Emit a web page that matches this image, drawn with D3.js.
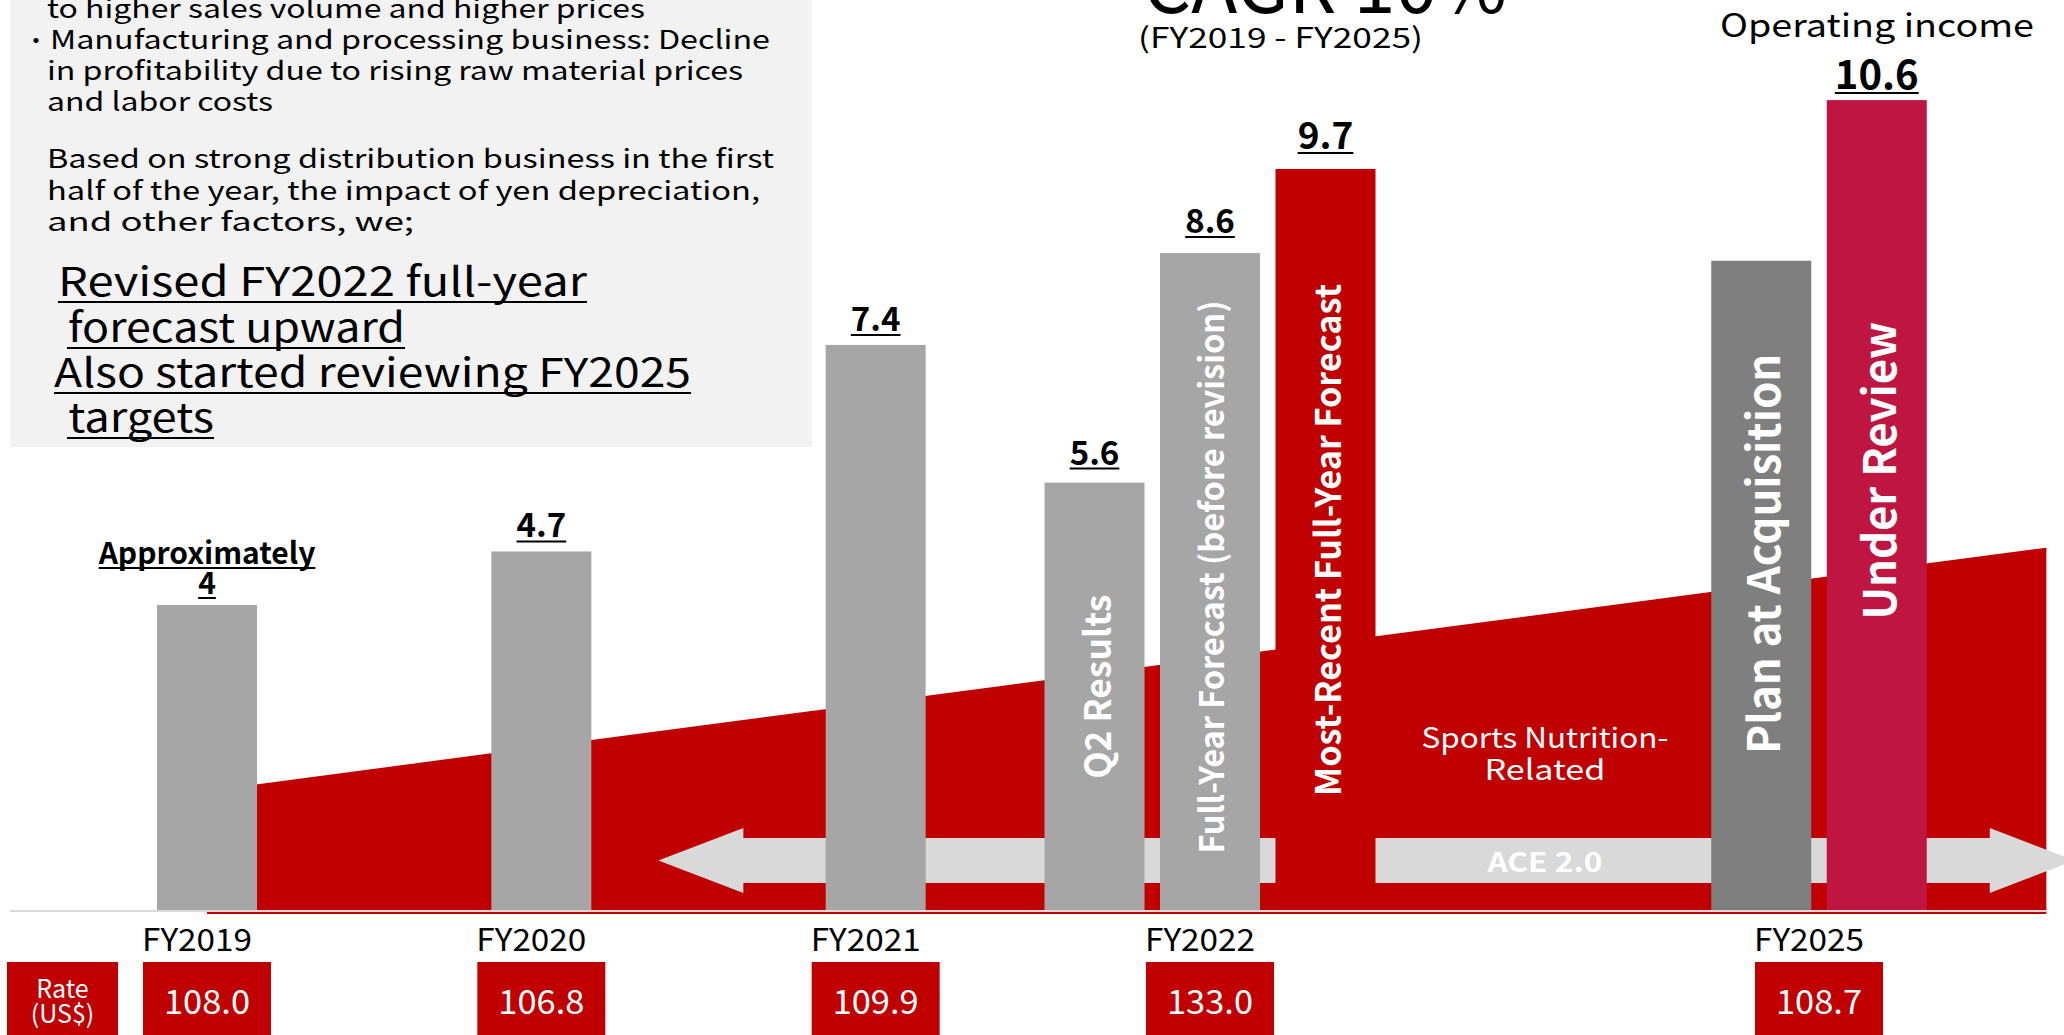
<!DOCTYPE html>
<html>
<head>
<meta charset="utf-8">
<script src="https://cdn.jsdelivr.net/npm/d3@7"></script>
<style>
  html, body { margin: 0; padding: 0; background: #fff; }
  svg { display: block; }
  text { font-family: "Noto Sans CJK JP", "Noto Sans", sans-serif; }
</style>
</head>
<body>
<svg id="chart" width="2064" height="1035"></svg>
<script>
// ---- data ---------------------------------------------------------------
// Fiscal-year groups on the bottom axis and the USD/JPY rate for each
const fiscalYears = [2019, 2020, 2021, 2022, 2025];
const yearLabels  = ["FY2019", "FY2020", "FY2021", "FY2022", "FY2025"];
const usdRates    = ["108.0", "106.8", "109.9", "133.0", "108.7"];

// Operating income bars (billion yen)
const barYears  = [2019, 2020, 2021, 2022, 2022, 2022, 2025, 2025];
const barKeys   = ["r19", "r20", "r21", "q2", "fyBefore", "fyLatest", "plan", "review"];
const barValues = [4, 4.7, 7.4, 5.6, 8.6, 9.7, 8.5, 10.6];
const barValueLabels = [["Approximately", "4"], ["4.7"], ["7.4"], ["5.6"], ["8.6"], ["9.7"], [], ["10.6"]];
const barNames = ["", "", "", "Q2 Results", "Full-Year Forecast (before revision)",
                  "Most-Recent Full-Year Forecast", "Plan at Acquisition", "Under Review"];

// Sports nutrition band: [year, level] at its two ends
const sportsBandYears  = [2019, 2026.12];
const sportsBandLevels = [1.57, 4.75];

// ACE 2.0 timeline arrow, in fiscal years
const aceSpan = [2020.35, 2026.26];

// Commentary panel
const noteLines = [
  "to higher sales volume and higher prices",
  "Manufacturing and processing business: Decline",
  "in profitability due to rising raw material prices",
  "and labor costs",
  "Based on strong distribution business in the first",
  "half of the year, the impact of yen depreciation,",
  "and other factors, we;"
];
const headlineLines = [
  "Revised FY2022 full-year",
  " forecast upward",
  "Also started reviewing FY2025",
  " targets"
];

// ---- styles -------------------------------------------------------------
const RED = "#c00000", GREY = "#a6a6a6", DARK_GREY = "#7f7f7f", CRIMSON = "#bf1541";
const barStyle = {
  r19:      { fill: GREY,      labelSize: 30, labelGap: 11 },
  r20:      { fill: GREY,      labelSize: 33, labelGap: 14 },
  r21:      { fill: GREY,      labelSize: 33, labelGap: 14 },
  q2:       { fill: GREY,      labelSize: 33, labelGap: 18, nameSize: 36, nameWeight: 700, nameLen: 184, nameShift: -10 },
  fyBefore: { fill: GREY,      labelSize: 33, labelGap: 20, nameSize: 33, nameWeight: 600, nameLen: 553, nameShift: -5 },
  fyLatest: { fill: RED,       labelSize: 37, labelGap: 20, nameSize: 35, nameWeight: 700, nameLen: 512, nameShift: 0 },
  plan:     { fill: DARK_GREY, labelSize: 33, labelGap: 14, nameSize: 44, nameWeight: 700, nameLen: 400, nameShift: -32 },
  review:   { fill: CRIMSON,   labelSize: 40, labelGap: 11, nameSize: 45, nameWeight: 700, nameLen: 298, nameShift: -35 }
};

// ---- scales -------------------------------------------------------------
const baseY = 911;
const y = d3.scaleLinear().domain([0, 10]).range([baseY, baseY - 765]);
// broken year axis: FY2019-FY2022 evenly spaced, FY2025 after a compressed gap
const x = d3.scaleLinear().domain([2019, 2022, 2025]).range([207, 1210, 1819]);
const barW = 100, barStep = 115.5;

const svg = d3.select("#chart");

// ---- commentary panel ---------------------------------------------------
svg.append("rect").attr("x", 10).attr("y", 0).attr("width", 802).attr("height", 447).attr("fill", "#f2f2f2");

const noteY = [18, 49, 80, 111, 168, 200, 231];
const noteLen = [598, 720, 696, 226, 727, 713, 367];
const noteG = svg.append("g").attr("fill", "#000").attr("font-size", 26);
noteG.append("text").attr("x", 24).attr("y", noteY[1]).text("・").attr("font-size", 24);
noteLines.forEach((t, i) => {
  noteG.append("text")
    .attr("x", i === 1 ? 50 : 47)
    .attr("y", noteY[i])
    .attr("textLength", noteLen[i])
    .attr("lengthAdjust", "spacingAndGlyphs")
    .text(t);
});

const headY = [296, 342, 387, 432];
const headX = [58, 58, 54, 58];
const headLen = [529, 347, 637, 156];
const headG = svg.append("g").attr("font-size", 40).attr("fill", "#000");
headlineLines.forEach((t, i) => {
  headG.append("text")
    .attr("x", headX[i]).attr("y", headY[i])
    .attr("textLength", headLen[i])
    .attr("lengthAdjust", "spacingAndGlyphs")
    .style("white-space", "pre")
    .text(t);
  const lead = t.startsWith(" ") ? 9 : 0;
  headG.append("line")
    .attr("x1", headX[i] + lead).attr("x2", headX[i] + headLen[i])
    .attr("y1", headY[i] + 6).attr("y2", headY[i] + 6)
    .attr("stroke", "#000").attr("stroke-width", 2);
});

// ---- title --------------------------------------------------------------
svg.append("text").attr("x", 1143).attr("y", 13).attr("font-size", 76)
  .attr("textLength", 364).attr("lengthAdjust", "spacingAndGlyphs").text("CAGR 10%");
svg.append("text").attr("x", 1138).attr("y", 48).attr("font-size", 28)
  .attr("textLength", 285).attr("lengthAdjust", "spacingAndGlyphs").text("(FY2019 - FY2025)");
svg.append("text").attr("x", 1720).attr("y", 37).attr("font-size", 32)
  .attr("textLength", 314).attr("lengthAdjust", "spacingAndGlyphs").text("Operating income");

// ---- sports nutrition band ----------------------------------------------
const bandPts = [
  [x(sportsBandYears[0]), y(sportsBandLevels[0])],
  [x(sportsBandYears[1]), y(sportsBandLevels[1])],
  [x(sportsBandYears[1]), y(0) + 3],
  [x(sportsBandYears[0]), y(0) + 3]
];
svg.append("path").attr("d", d3.line()(bandPts) + "Z").attr("fill", RED);

const bandLabelX = x(2023.65);
svg.append("text").attr("x", bandLabelX).attr("y", 748).attr("fill", "#fff").attr("font-size", 28)
  .attr("text-anchor", "middle").attr("textLength", 247).attr("lengthAdjust", "spacingAndGlyphs")
  .text("Sports Nutrition-");
svg.append("text").attr("x", bandLabelX).attr("y", 780).attr("fill", "#fff").attr("font-size", 28)
  .attr("text-anchor", "middle").attr("textLength", 121).attr("lengthAdjust", "spacingAndGlyphs")
  .text("Related");

// ---- ACE 2.0 arrow ------------------------------------------------------
const ax0 = x(aceSpan[0]), ax1 = x(aceSpan[1]);
const acy = 860.5, bodyH = 22.5, headH = 32.5, headL = 85;
const arrowPts = [
  [ax0, acy], [ax0 + headL, acy - headH], [ax0 + headL, acy - bodyH],
  [ax1 - headL, acy - bodyH], [ax1 - headL, acy - headH], [ax1, acy],
  [ax1 - headL, acy + headH], [ax1 - headL, acy + bodyH],
  [ax0 + headL, acy + bodyH], [ax0 + headL, acy + headH]
];
svg.append("path").attr("d", d3.line()(arrowPts) + "Z").attr("fill", "#d9d9d9");
svg.append("text").attr("x", bandLabelX).attr("y", 872).attr("fill", "#fff")
  .attr("font-family", "'Open Sans', sans-serif").attr("font-weight", 700).attr("font-size", 27)
  .attr("text-anchor", "middle").attr("textLength", 115).attr("lengthAdjust", "spacingAndGlyphs")
  .text("ACE 2.0");

// ---- bars ---------------------------------------------------------------
const bars = barKeys.map((k, i) => ({
  key: k, year: barYears[i], value: barValues[i], labels: barValueLabels[i], name: barNames[i]
}));
const groups = d3.group(bars, d => d.year);
groups.forEach((list, yr) => {
  const n = list.length;
  const W = n * barStep - (barStep - barW);
  const sub = d3.scaleBand().domain(list.map(d => d.key))
    .range([x(yr) - W / 2, x(yr) + W / 2])
    .paddingInner(n > 1 ? 1 - barW / barStep : 0).paddingOuter(0);
  list.forEach(d => { d.x0 = sub(d.key); d.w = sub.bandwidth(); });
});

const barG = svg.append("g");
barG.selectAll("rect").data(bars).join("rect")
  .attr("x", d => d.x0).attr("width", d => d.w)
  .attr("y", d => y(d.value)).attr("height", d => y(0) - y(d.value))
  .attr("fill", d => barStyle[d.key].fill);

// names written up the bars
bars.filter(d => d.name).forEach(d => {
  const s = barStyle[d.key];
  const cx = d.x0 + d.w / 2;
  const cy = (y(d.value) + y(0)) / 2 + s.nameShift;
  svg.append("text")
    .attr("transform", `translate(${cx},${cy}) rotate(-90)`)
    .attr("text-anchor", "middle").attr("dominant-baseline", "central")
    .attr("font-family", "'Open Sans', sans-serif")
    .attr("font-weight", s.nameWeight).attr("font-size", s.nameSize)
    .attr("fill", "#fff")
    .attr("textLength", s.nameLen).attr("lengthAdjust", "spacingAndGlyphs")
    .text(d.name);
});

// underlined value labels above the bars
bars.forEach(d => {
  const s = barStyle[d.key];
  const cx = d.x0 + d.w / 2;
  const lines = d.labels;
  lines.forEach((t, j) => {
    const by = y(d.value) - s.labelGap - (lines.length - 1 - j) * 30;
    const tx = svg.append("text")
      .attr("x", cx).attr("y", by).attr("text-anchor", "middle")
      .attr("font-weight", 700).attr("font-size", s.labelSize).attr("fill", "#000")
      .text(t);
    const len = tx.node().getComputedTextLength();
    svg.append("line")
      .attr("x1", cx - len / 2).attr("x2", cx + len / 2)
      .attr("y1", by + 4).attr("y2", by + 4)
      .attr("stroke", "#000").attr("stroke-width", 2);
  });
});

// baseline
svg.append("line").attr("x1", 10).attr("x2", x(sportsBandYears[1]))
  .attr("y1", y(0)).attr("y2", y(0)).attr("stroke", "#d9d9d9").attr("stroke-width", 2);

// ---- axis labels and exchange-rate boxes --------------------------------
const axisG = svg.append("g");
fiscalYears.forEach((yr, i) => {
  axisG.append("text").attr("x", x(yr) - 10).attr("y", 951)
    .attr("text-anchor", "middle").attr("font-size", 31).attr("fill", "#000")
    .attr("textLength", 110).attr("lengthAdjust", "spacingAndGlyphs")
    .text(yearLabels[i]);
  axisG.append("rect").attr("x", x(yr) - 64).attr("y", 962).attr("width", 128).attr("height", 80)
    .attr("fill", RED);
  axisG.append("text").attr("x", x(yr)).attr("y", 1014)
    .attr("text-anchor", "middle").attr("font-size", 33).attr("fill", "#fff")
    .attr("textLength", 86).attr("lengthAdjust", "spacingAndGlyphs")
    .text(usdRates[i]);
});
axisG.append("rect").attr("x", 7).attr("y", 962).attr("width", 111).attr("height", 80).attr("fill", RED);
axisG.append("text").attr("x", 62.5).attr("y", 998).attr("text-anchor", "middle")
  .attr("font-size", 25).attr("fill", "#fff").text("Rate");
axisG.append("text").attr("x", 62.5).attr("y", 1023).attr("text-anchor", "middle")
  .attr("font-size", 25).attr("fill", "#fff").text("(US$)");
</script>
</body>
</html>
